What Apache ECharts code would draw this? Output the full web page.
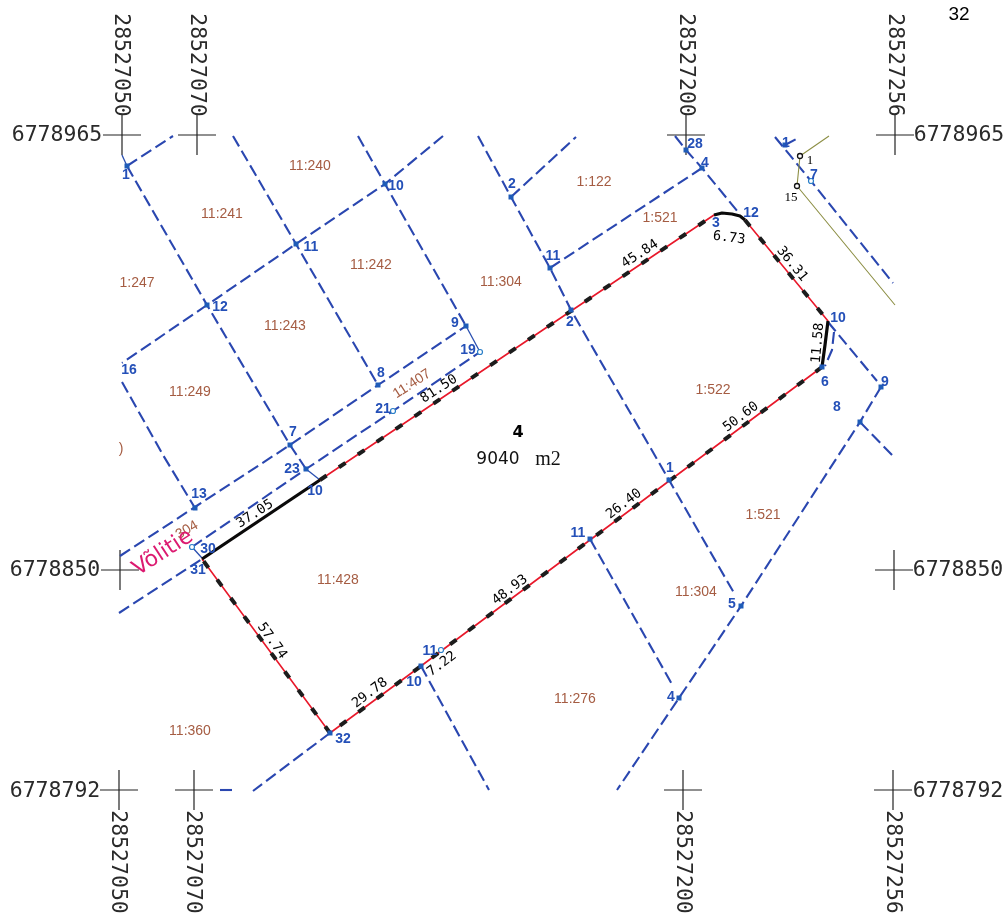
<!DOCTYPE html>
<html>
<head>
<meta charset="utf-8">
<style>html,body{margin:0;padding:0;background:#fff}#c{width:1006px;height:913px}</style>
<script src="https://cdn.jsdelivr.net/npm/echarts@6/dist/echarts.min.js"></script>
</head>
<body>
<div id="c"></div>
<script>
// All coordinates are sheet units (axis range 0-1006, 0-913).
const gridCrosses = [[122,135],[197,135],[686,135],[895,135],[120,570],[894,570],[119,790],[194,790],[683,790],[893,790]];
const northingLabels = [["6778965",57,135],["6778965",959,135],["6778850",55,570],["6778850",958,570],["6778792",55,791],["6778792",958,791]];
const eastingLabels = [["28527050",121,65],["28527070",197,65],["28527200",686,65],["28527256",895,65],["28527050",118,862],["28527070",193,862],["28527200",683,862],["28527256",893,862]];

const boundaryRing = [[202,559],[320,480],[571,311],[714,215],[722,213],[732,214],[740,216],[745,220],[828,321],[825,345],[822,367],[669,481],[590,540],[421,666],[330,733],[202,559]];
const measuredRuns = [[[320,480],[571,311],[714,215]],[[745,220],[828,321]],[[822,367],[669,481],[590,540],[421,666],[330,733]],[[330,733],[202,559]]];
const solidRuns = [[[202,559],[320,480]],[[714,215],[722,213],[732,214],[740,216],[745,220]],[[828,321],[825,345],[822,367]]];

const neighbourLines = [
 [[127,166],[173,136]],
 [[127,166],[207,305],[290,445],[306,469]],
 [[207,305],[122,363]],
 [[122,382],[163,455],[195,508]],
 [[233,136],[296,244],[378,385]],
 [[358,136],[385,184],[466,326]],
 [[443,136],[385,184],[296,244],[207,305]],
 [[120,556],[195,507],[290,445],[378,385],[466,326]],
 [[119,613],[202,559]],
 [[192,547],[306,469],[393,411],[480,352]],
 [[478,136],[511,197],[550,268],[571,310],[669,480],[734,593]],
 [[511,197],[576,137]],
 [[550,268],[702,168]],
 [[675,136],[686,150],[702,168],[738,212]],
 [[828,322],[877,381]],
 [[881,387],[860,422],[741,606],[679,698],[617,790]],
 [[860,422],[893,456]],
 [[590,539],[673,686]],
 [[421,666],[489,790]],
 [[330,733],[253,791]],
 [[220,790],[236,790]],
 [[775,137],[811,181],[893,283]],
 [[785,145],[800,137]],
 [[834,332],[832,350],[825,366]]
];
const shortSolidLines = [[[192,547],[202,558]],[[466,326],[480,352]],[[306,469],[320,480]],[[122,155],[127,166]]];
const olivePath = [[829,136],[800,156],[797,186],[895,305]];

const monumentPoints = [[127,166],[207,305],[296,244],[385,184],[290,445],[378,385],[466,326],[195,508],[306,469],[511,197],[550,268],[571,310],[702,168],[686,150],[669,480],[590,539],[421,666],[330,733],[741,606],[679,698],[860,422],[881,387],[785,145],[822,367]];
const openBluePoints = [[393,411],[480,352],[192,547],[811,181],[441,650]];
const openBlackPoints = [[800,156],[797,186]];

const parcelLabels = [["11:240",310,166,0],["11:241",222,214,0],["1:247",137,283,0],["11:242",371,265,0],["11:243",285,326,0],["11:249",190,392,0],["11:304",501,282,0],["1:122",594,182,0],["1:521",660,218,0],["11:407",412,384,33],["1:522",713,390,0],["1:521",763,515,0],["11:304",696,592,0],["11:428",338,580,0],["11:276",575,699,0],["11:360",190,731,0],[")",121,449,0],["304",187,530,30]];
const pointLabels = [["1",126,175],["10",396,186],["11",311,247],["12",220,307],["16",129,370],["9",455,323],["19",468,350],["8",381,373],["21",383,409],["7",293,432],["23",292,469],["10",315,491],["13",199,494],["30",208,549],["31",198,570],["32",343,739],["10",414,682],["11",430,651],["11",578,533],["1",670,468],["5",732,604],["4",671,697],["2",512,184],["11",553,256],["2",570,322],["28",695,144],["4",705,163],["3",716,223],["12",751,213],["10",838,318],["6",825,382],["9",885,382],["8",837,407],["7",814,175],["1",786,143]];
const distanceLabels = [["37.05",255,514,33],["81.50",439,389,33],["45.84",640,254,33],["6.73",729,238,-7],["36.31",792,264,-51],["11.58",818,343,85],["50.60",741,417,37],["26.40",624,504,37],["48.93",510,590,37],["7.22",442,664,37],["29.78",370,693,37],["57.74",272,641,-54]];
const fenceLabels = [["1",810,161],["15",791,198]];
const roadLabel = [["Võlitie",163,553,33]];
const parcelNumber = [["4",518,433]];
const parcelArea = [["9040",498,460]];
const parcelAreaUnit = [["m2",548,460]];
const sheetLabel = [["32",959,15]];

const line = (pts, color, width, type, z) => ({type:'line', data:pts, symbol:'none', silent:true, animation:false, clip:false, z:z,
  lineStyle:{color:color, width:width, type:type||'solid', cap:'butt', join:'round'}});
const texts = (rows, style, rot) => ({type:'scatter', symbolSize:0, silent:true, animation:false, z:10, clip:false, itemStyle:{opacity:1},
  data:rows.map(r => ({value:[r[1],r[2]], name:r[0], label:{rotate: rot!==undefined ? rot : (r[3]||0)}})),
  label:Object.assign({show:true, position:'inside', align:'center', verticalAlign:'middle', formatter:p=>p.name}, style)});
const dots = (pts, opt) => Object.assign({type:'scatter', data:pts, silent:true, animation:false, z:6, clip:false}, opt);

const mono = 'DejaVu Sans Mono';
const series = [];
gridCrosses.forEach(([x,y]) => {
  series.push(line([[x-19,y],[x+19,y]],'#222',1.2));
  series.push(line([[x,y-20],[x,y+20]],'#222',1.2));
});
neighbourLines.forEach(p => series.push(line(p,'#2a47b0',2.1,[12,5],3)));
shortSolidLines.forEach(p => series.push(line(p,'#2a4fb0',1.3,'solid',3)));
series.push(line(olivePath,'#8d8f45',1.1,'solid',3));
series.push(line(boundaryRing,'#e8182a',1.6,'solid',4));
measuredRuns.forEach(p => series.push(line(p,'#1c1c1c',4,[8,14.8],5)));
solidRuns.forEach(p => series.push(line(p,'#0a0a0a',3.2,'solid',5)));
series.push(dots(monumentPoints,{symbol:'rect',symbolSize:5,itemStyle:{color:'#1f5cb8',opacity:1}}));
series.push(dots(openBluePoints,{symbol:'circle',symbolSize:5,itemStyle:{color:'#fff',borderColor:'#2a7fc8',borderWidth:1.2,opacity:1}}));
series.push(dots(openBlackPoints,{symbol:'circle',symbolSize:5,itemStyle:{color:'#fff',borderColor:'#111',borderWidth:1.3,opacity:1}}));
series.push(texts(northingLabels,{fontFamily:mono,fontSize:21.5,color:'#2a2a2a'},0));
series.push(texts(eastingLabels,{fontFamily:mono,fontSize:21.5,color:'#2a2a2a'},-90));
series.push(texts(parcelLabels,{fontFamily:'Liberation Sans',fontSize:14,color:'#a55c42'}));
series.push(texts(pointLabels,{fontFamily:'Liberation Sans',fontSize:14,fontWeight:'bold',color:'#2450b8'},0));
series.push(texts(distanceLabels,{fontFamily:mono,fontSize:13.5,color:'#000'}));
series.push(texts(fenceLabels,{fontFamily:'Liberation Serif',fontSize:13,color:'#000'},0));
series.push(texts(roadLabel,{fontFamily:'DejaVu Sans',fontSize:22,color:'#dc1a70'}));
series.push(texts(parcelNumber,{fontFamily:'DejaVu Sans',fontSize:16,fontWeight:'bold',color:'#000'},0));
series.push(texts(parcelArea,{fontFamily:'DejaVu Sans',fontSize:17,color:'#111'},0));
series.push(texts(parcelAreaUnit,{fontFamily:'Liberation Serif',fontSize:20,color:'#111'},0));
series.push(texts(sheetLabel,{fontFamily:'Liberation Sans',fontSize:19,color:'#000'},0));

const chart = echarts.init(document.getElementById('c'), null, {renderer:'canvas'});
chart.setOption({
  animation:false, backgroundColor:'#fff', legend:{show:false}, tooltip:{show:false},
  grid:{left:0,right:0,top:0,bottom:0},
  xAxis:{type:'value',min:0,max:1006,show:false},
  yAxis:{type:'value',min:0,max:913,inverse:true,show:false},
  series:series
});
</script>
</body>
</html>
